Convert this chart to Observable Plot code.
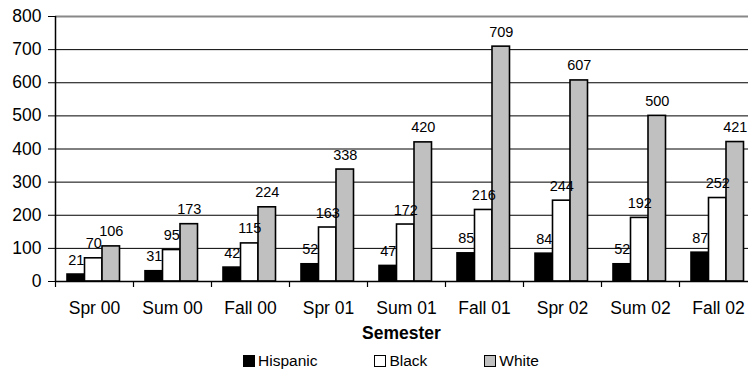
<!DOCTYPE html>
<html>
<head>
<meta charset="utf-8">
<script src="https://cdn.jsdelivr.net/npm/d3@7"></script>
<script src="https://cdn.jsdelivr.net/npm/@observablehq/plot@0.6"></script>
<style>
  body { margin: 0; background: #fff; overflow: hidden; }
  #wrap { position: relative; width: 748px; height: 373px; font-family: "Liberation Sans", Arial, sans-serif; color: #000; overflow: hidden; }
  #xlabel { position: absolute; left: 0; width: 803px; top: 323px; text-align: center; font-weight: bold; font-size: 17.5px; }
  #legend { position: absolute; left: 243px; top: 352px; display: flex; align-items: center; font-size: 15.5px; }
  .item { display: flex; align-items: center; margin-right: 57px; }
  .sw { width: 10px; height: 10px; border: 1.5px solid #000; margin-right: 3px; }
</style>
</head>
<body>
<div id="wrap">
  <div id="chart"></div>
  <div id="xlabel">Semester</div>
  <div id="legend"></div>
</div>
<script>
const semesters = ["Spr 00", "Sum 00", "Fall 00", "Spr 01", "Sum 01", "Fall 01", "Spr 02", "Sum 02", "Fall 02"];
const hispanic = [21, 31, 42, 52, 47, 85, 84, 52, 87];
const black    = [70, 95, 115, 163, 172, 216, 244, 192, 252];
const white    = [106, 173, 224, 338, 420, 709, 607, 500, 421];
const seriesNames = ["Hispanic", "Black", "White"];
const yTicks = [0, 100, 200, 300, 400, 500, 600, 700, 800];

const seriesValues = [hispanic, black, white];
const seriesFill = ["#000000", "#ffffff", "#c0c0c0"];

const W = 748, H = 320, mL = 55, mR = -9, mT = 16, mB = 39;
const bw = (W - mL - mR) / semesters.length;   // band width
const barW = 17.5;
const barOff = [12, 29.5, 47];                   // left edge of each bar inside its band

const rows = seriesNames.map((s, k) =>
  semesters.map((sem, i) => ({semester: sem, series: s, value: seriesValues[k][i]}))
);

const marks = [
  Plot.ruleY(yTicks.slice(1, -1), {stroke: "#000", strokeWidth: 1}),
  Plot.ruleY([yTicks[yTicks.length - 1]], {stroke: "#888", strokeWidth: 2})
];
rows.forEach((data, k) => {
  marks.push(Plot.barY(data, {
    x: "semester", y: "value", fill: seriesFill[k], stroke: "#000", strokeWidth: 1.6,
    insetLeft: barOff[k], insetRight: bw - barOff[k] - barW
  }));
});
rows.forEach((data, k) => {
  marks.push(Plot.text(data, {
    x: "semester", y: "value", text: d => String(d.value),
    dx: barOff[k] + barW / 2 - bw / 2, dy: -10, lineAnchor: "bottom",
    fontSize: 14.5, fill: "#000"
  }));
});
marks.push(
  Plot.ruleY([0], {stroke: "#000", strokeWidth: 1.5}),
  Plot.ruleX(semesters, {x: d => d, y1: 0, y2: 0, dx: -bw / 2, insetBottom: -6, stroke: "#000", strokeWidth: 1.2}),
  Plot.ruleX([semesters[0]], {x: d => d, dx: -bw / 2, stroke: "#000", strokeWidth: 1.5}),
  Plot.axisY({ticks: yTicks, tickSize: 7, tickPadding: 7, fontSize: 17.5, label: null, tickFormat: d => String(d)}),
  Plot.axisX({tickSize: 0, tickPadding: 20, fontSize: 17.5, label: null})
);

const chart = Plot.plot({
  width: W, height: H,
  marginLeft: mL, marginRight: mR, marginTop: mT, marginBottom: mB,
  style: {fontFamily: "Liberation Sans, Arial, sans-serif", color: "#000", background: "#fff", overflow: "visible"},
  x: {domain: semesters, padding: 0},
  y: {domain: [0, 800]},
  marks
});
document.getElementById("chart").appendChild(chart);

const legend = document.getElementById("legend");
seriesNames.forEach((s, k) => {
  const it = document.createElement("div");
  it.className = "item";
  const sw = document.createElement("div");
  sw.className = "sw";
  sw.style.background = seriesFill[k];
  const t = document.createElement("span");
  t.textContent = s;
  it.appendChild(sw); it.appendChild(t);
  legend.appendChild(it);
});
</script>
</body>
</html>
